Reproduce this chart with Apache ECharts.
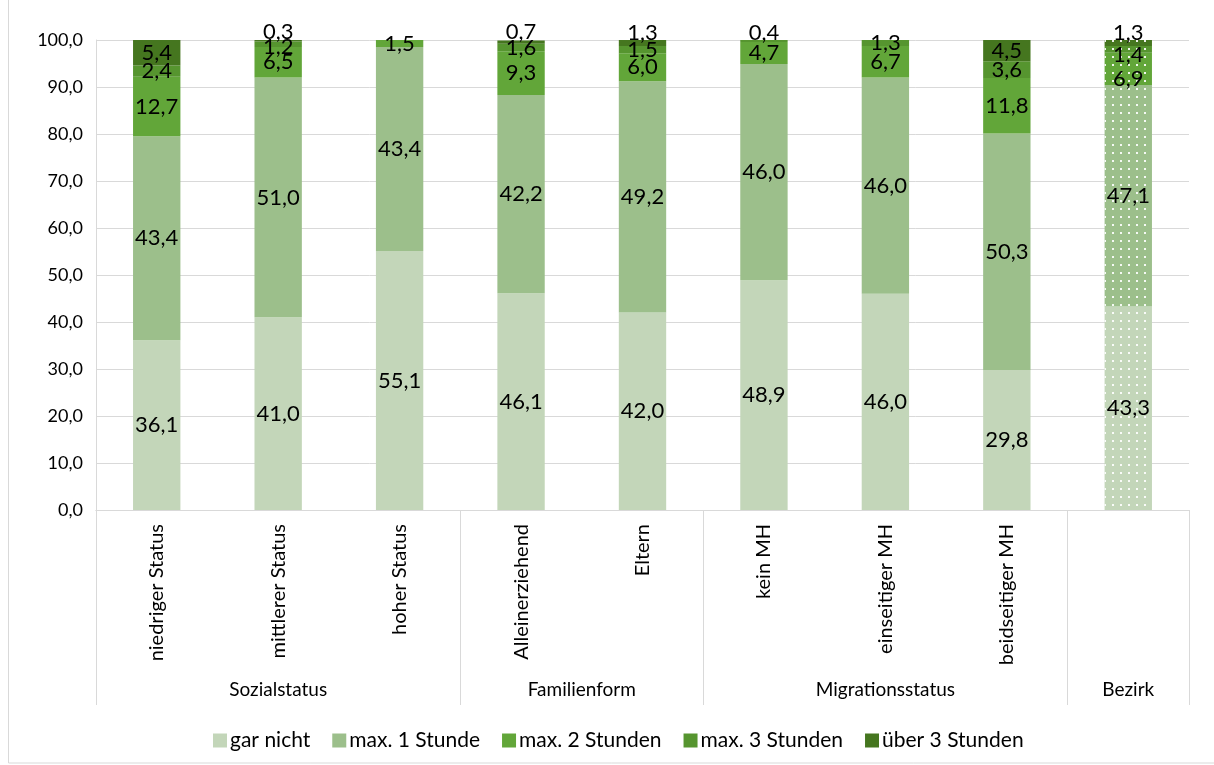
<!DOCTYPE html>
<html>
<head>
<meta charset="utf-8">
<script src="https://cdn.jsdelivr.net/npm/echarts@6/dist/echarts.min.js"></script>
<style>
  html, body { margin: 0; padding: 0; background: #fff; }
  #chart { width: 1214px; height: 765px; }
</style>
</head>
<body>
<div id="chart"></div>
<script>
// Categories along the x axis and the group each belongs to
const categories = ['niedriger Status', 'mittlerer Status', 'hoher Status',
  'Alleinerziehend', 'Eltern', 'kein MH', 'einseitiger MH', 'beidseitiger MH', ''];
const groups = ['Sozialstatus', 'Familienform', 'Migrationsstatus', 'Bezirk'];
const groupSizes = [3, 2, 3, 1];

// Share (%) per answer, one array per stacked series
const seriesNames = ['gar nicht', 'max. 1 Stunde', 'max. 2 Stunden', 'max. 3 Stunden', 'über 3 Stunden'];
const garNicht     = [36.1, 41.0, 55.1, 46.1, 42.0, 48.9, 46.0, 29.8, 43.3];
const max1Stunde   = [43.4, 51.0, 43.4, 42.2, 49.2, 46.0, 46.0, 50.3, 47.1];
const max2Stunden  = [12.7, 6.5, 1.5, 9.3, 6.0, 4.7, 6.7, 11.8, 6.9];
const max3Stunden  = [2.4, 1.2, null, 1.6, 1.5, 0.4, 1.3, 3.6, 1.4];
const ueber3Stunden = [5.4, 0.3, null, 0.7, 1.3, null, null, 4.5, 1.3];

const yTicks = [0, 10, 20, 30, 40, 50, 60, 70, 80, 90, 100];

const seriesValues = [garNicht, max1Stunde, max2Stunden, max3Stunden, ueber3Stunden];
const colors = ['#c3d6b9', '#9cbf8b', '#62a639', '#56952f', '#45761f'];

// Nudges for labels of thin segments so they do not sit on top of each other
const labelNudge = {
  2: { 8: 10 },
  3: { 1: 3, 5: -8, 8: 6 },
  4: { 1: -9, 3: -10, 4: -10, 8: -10 }
};

const FONT = 'Lato, "Open Sans", sans-serif';
const fmt = v => v.toFixed(1).replace('.', ',');

// Boundaries and centres of the category groups (in category units)
const groupEdges = [0];
const groupCentres = [];
groupSizes.forEach(n => {
  const start = groupEdges[groupEdges.length - 1];
  groupCentres.push(start + n / 2);
  groupEdges.push(start + n);
});

// The district bar is drawn with a dotted overlay
const dotted = {
  symbol: 'rect',
  symbolSize: 1,
  dashArrayX: [2, 6],
  dashArrayY: [2, 6],
  rotation: 0,
  color: 'rgba(255,255,255,0.9)'
};
const bezirkIndex = categories.length - 1;

const series = seriesValues.map((vals, s) => ({
  name: seriesNames[s],
  type: 'bar',
  stack: 'total',
  barWidth: '39%',
  itemStyle: { color: colors[s] },
  label: {
    show: true,
    position: 'inside',
    color: '#000',
    fontFamily: FONT,
    fontSize: 22,
    formatter: p => (p.value == null ? '' : fmt(p.value))
  },
  data: vals.map((v, i) => {
    const item = { value: v };
    const nudge = labelNudge[s] && labelNudge[s][i];
    if (nudge) item.label = { offset: [0, nudge] };
    if (i === bezirkIndex) item.itemStyle = { decal: dotted };
    return item;
  })
}));

const chart = echarts.init(document.getElementById('chart'), null, { renderer: 'canvas' });
chart.setOption({
  animation: false,
  backgroundColor: '#fff',
  textStyle: { fontFamily: FONT },
  graphic: [{
    type: 'rect',
    shape: { x: 8.5, y: -5, width: 1220, height: 768 },
    style: { fill: 'none', stroke: '#d9d9d9', lineWidth: 1 },
    silent: true
  }],
  legend: {
    data: seriesNames,
    bottom: 9,
    left: 208,
    icon: 'rect',
    itemWidth: 14,
    itemHeight: 14,
    itemGap: 22,
    textStyle: { fontFamily: FONT, fontSize: 21, color: '#000', padding: [0, 0, 0, -2] }
  },
  grid: { left: 96, right: 25, top: 40, bottom: 255, containLabel: false },
  xAxis: [{
    type: 'category',
    data: categories,
    position: 'bottom',
    axisLine: { show: true, lineStyle: { color: '#d9d9d9' } },
    axisTick: { show: false },
    axisLabel: {
      rotate: 90,
      margin: 14,
      interval: 0,
      color: '#000',
      fontFamily: FONT,
      fontSize: 20
    }
  }, {
    type: 'value',
    min: 0,
    max: categories.length,
    position: 'bottom',
    splitLine: { show: false },
    axisLine: { show: true, lineStyle: { color: '#d9d9d9' } },
    axisTick: {
      show: true,
      customValues: groupEdges,
      length: 195,
      lineStyle: { color: '#d9d9d9' }
    },
    axisLabel: {
      show: true,
      customValues: groupCentres,
      margin: 170,
      color: '#000',
      fontFamily: FONT,
      fontSize: 19,
      formatter: v => {
        const k = groupCentres.findIndex(c => Math.abs(c - v) < 1e-6);
        return k >= 0 ? groups[k] : '';
      }
    }
  }],
  yAxis: {
    type: 'value',
    min: yTicks[0],
    max: yTicks[yTicks.length - 1],
    interval: yTicks[1] - yTicks[0],
    axisLine: { show: true, lineStyle: { color: '#d9d9d9' } },
    axisTick: { show: false },
    splitLine: { lineStyle: { color: '#d9d9d9' } },
    axisLabel: {
      margin: 13,
      color: '#000',
      fontFamily: FONT,
      fontSize: 18,
      formatter: v => fmt(v)
    }
  },
  series: series
});
</script>
</body>
</html>
